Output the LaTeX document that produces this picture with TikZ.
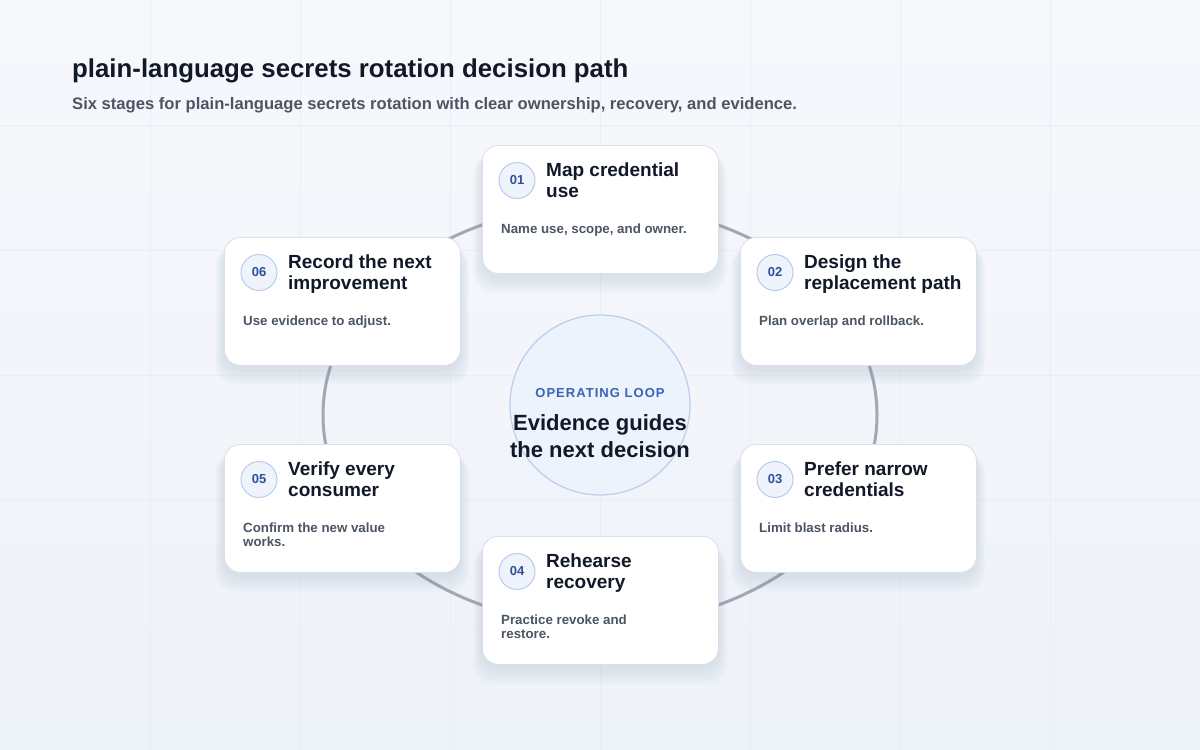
\documentclass[tikz,border=0pt]{standalone}
\usepackage{fontspec}
\setmainfont{Liberation Sans}
\usetikzlibrary{calc}
\definecolor{bgA}{HTML}{F7F8FC}
\definecolor{bgB}{HTML}{EEF2F9}
\definecolor{gridc}{HTML}{E9EDF4}
\definecolor{ringc}{HTML}{A2A8B4}
\definecolor{cardborder}{HTML}{D8DFEA}
\definecolor{titlec}{HTML}{111827}
\definecolor{subc}{HTML}{4B5563}
\definecolor{descc}{HTML}{4B5563}
\definecolor{numc}{HTML}{2E4F9C}
\definecolor{numfill}{HTML}{EEF3FC}
\definecolor{numborder}{HTML}{BACBE8}
\definecolor{hubfill}{HTML}{EDF3FC}
\definecolor{hubborder}{HTML}{BBCDEB}
\definecolor{hublabel}{HTML}{3A62B5}
\definecolor{shadowc}{HTML}{7D8AA6}
\tikzset{
  cardbox/.style={draw=cardborder, line width=0.8pt, fill=white, rounded corners=16pt,
    minimum width=236pt, minimum height=128pt, inner sep=0pt, anchor=north west},
  cardshadow/.style={fill=shadowc, opacity=0.02, rounded corners=20pt},
  numbadge/.style={circle, draw=numborder, line width=1pt, fill=numfill, minimum size=36pt,
    inner sep=0pt, text=numc, font=\fontsize{13}{13}\selectfont\bfseries},
  cardtitle/.style={anchor=north west, inner sep=0pt, align=left, text=titlec,
    font=\fontsize{19}{21}\selectfont\bfseries},
  carddesc/.style={anchor=north west, inner sep=0pt, align=left, text=descc,
    font=\fontsize{13.3}{14}\selectfont\bfseries},
  gridline/.style={draw=gridc, line width=0.8pt},
  loopring/.style={draw=ringc, line width=3pt},
}
\newcommand\stagecard[6]{%
  \foreach \k in {1,...,9}{
    \fill[cardshadow] (#2-\k*1.0, #3+6+\k*0.4) rectangle (#2+236+\k*1.0, #3+128+4+\k*1.8);
  }
  \node[cardbox] (#1) at (#2,#3) {};
  \node[numbadge] (#1n) at ($(#1.north west)+(35,35.5)$) {#4};
  \node[cardtitle] (#1t) at ($(#1.north west)+(64,16)$) {\rule{0pt}{15pt}#5};
  \node[carddesc] (#1d) at ($(#1.north west)+(19,78)$) {\rule{0pt}{10pt}#6};
}
\begin{document}
\begin{tikzpicture}[x=1pt,y=-1pt]
\useasboundingbox (0,0) rectangle (1200,750);
\shade[top color=bgA, bottom color=bgB] (0,0) rectangle (1200,750);
\foreach \gx in {150,300,...,1050}{\draw[gridline] (\gx,0) -- (\gx,750);}
\foreach \gy in {125,250,...,625}{\draw[gridline] (0,\gy) -- (1200,\gy);}
% header
\node[anchor=base west, inner sep=0pt, text=titlec, font=\fontsize{25.8}{28}\selectfont\bfseries] (title) at (72,77)
  {plain-language secrets rotation decision path};
\node[anchor=base west, inner sep=0pt, text=subc, font=\fontsize{16.6}{18}\selectfont\bfseries] (subtitle) at (72,109.5)
  {Six stages for plain-language secrets rotation with clear ownership, recovery, and evidence.};
% loop ring
\draw[loopring] (600,415) ellipse [x radius=277pt, y radius=210pt];
% hub
\node[circle, draw=hubborder, fill=hubfill, line width=1.2pt, minimum size=180pt, inner sep=0pt] (hub) at (600,405) {};
\node[anchor=base, inner sep=0pt, text=hublabel, font=\fontsize{13}{13}\selectfont\bfseries\addfontfeature{LetterSpace=8}] (hublab) at (600,397) {OPERATING LOOP};
\node[anchor=north, inner sep=0pt, align=center, text=titlec, font=\fontsize{22}{27}\selectfont\bfseries] (hubtext) at (600,414)
  {\rule{0pt}{16pt}Evidence guides\\the next decision};
% stages
\stagecard{s1}{482}{145}{01}{Map credential\\use}{Name use, scope, and owner.}
\stagecard{s2}{740}{237}{02}{Design the\\replacement path}{Plan overlap and rollback.}
\stagecard{s3}{740}{444}{03}{Prefer narrow\\credentials}{Limit blast radius.}
\stagecard{s4}{482}{536}{04}{Rehearse\\recovery}{Practice revoke and\\restore.}
\stagecard{s5}{224}{444}{05}{Verify every\\consumer}{Confirm the new value\\works.}
\stagecard{s6}{224}{237}{06}{Record the next\\improvement}{Use evidence to adjust.}
\end{tikzpicture}
\end{document}
